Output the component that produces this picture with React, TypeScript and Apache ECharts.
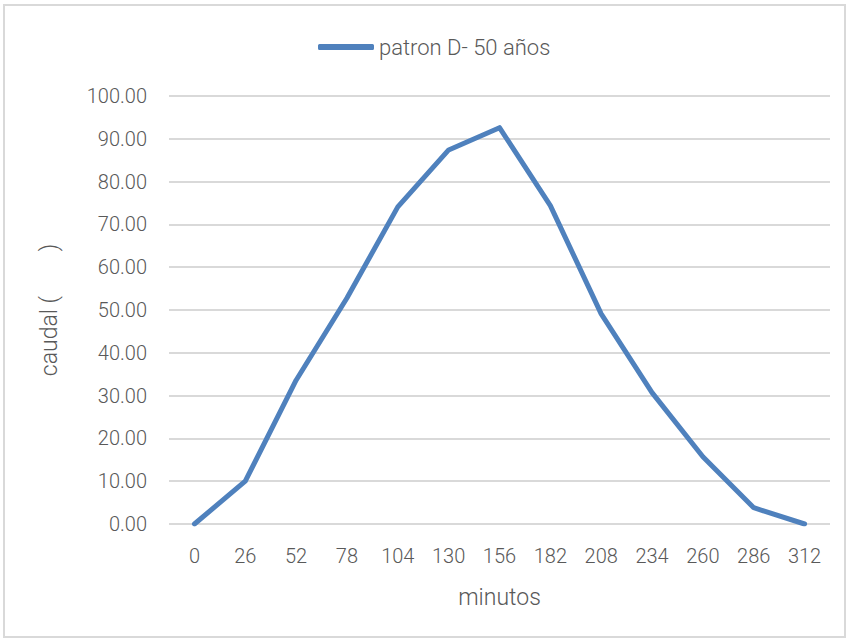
import React, { useEffect, useRef } from "react";
import * as echarts from "echarts";

const categories = ["0", "26", "52", "78", "104", "130", "156", "182", "208", "234", "260", "286", "312"];
const caudal = [0, 10.0, 33.6, 52.8, 74.1, 87.4, 92.6, 74.4, 49.1, 30.7, 15.7, 3.8, 0];
const seriesName = "patron D- 50 años";

const FONT = "Roboto, 'Liberation Sans', sans-serif";
const W = 300;

export default function App() {
  const ref = useRef<HTMLDivElement>(null);
  useEffect(() => {
    if (!ref.current) return;
    const chart = echarts.init(ref.current, undefined, { renderer: "svg" });
    chart.setOption({
      animation: false,
      textStyle: { fontFamily: FONT, color: "#595959", fontWeight: W },
      legend: {
        top: 31,
        left: 313,
        itemWidth: 56,
        itemHeight: 6,
        itemGap: 3,
        icon: "roundRect",
        textStyle: { fontSize: 22, color: "#595959", fontFamily: FONT, fontWeight: W },
        data: [{ name: seriesName, icon: "roundRect" }],
      },
      grid: { left: 169, right: 9, top: 96, bottom: 106 },
      xAxis: {
        type: "category",
        data: categories,
        boundaryGap: true,
        name: "minutos",
        nameLocation: "middle",
        nameGap: 62,
        nameTextStyle: { fontSize: 23, color: "#595959", fontFamily: FONT, fontWeight: W },
        axisLine: { show: false },
        axisTick: { show: false },
        axisLabel: { fontSize: 20, color: "#595959", margin: 22, fontFamily: FONT, fontWeight: W },
      },
      yAxis: {
        type: "value",
        min: 0,
        max: 100,
        interval: 10,
        name: "caudal (        )",
        nameLocation: "middle",
        nameGap: 108,
        nameTextStyle: { fontSize: 23, color: "#595959", fontFamily: FONT, fontWeight: W },
        axisLine: { show: false },
        axisTick: { show: false },
        axisLabel: {
          fontSize: 20,
          color: "#595959",
          margin: 22,
          fontFamily: FONT,
          fontWeight: W,
          formatter: (v: number) => v.toFixed(2),
        },
        splitLine: { lineStyle: { color: "#d9d9d9", width: 2 } },
      },
      series: [
        {
          name: seriesName,
          type: "line",
          data: caudal,
          symbol: "none",
          lineStyle: { color: "#4f81bd", width: 5, cap: "round", join: "round" },
          itemStyle: { color: "#4f81bd" },
        },
      ],
    });
    return () => chart.dispose();
  }, []);
  return (
    <div
      style={{
        position: "absolute",
        left: 3,
        top: 4,
        width: 843,
        height: 634,
        border: "2px solid #d9d9d9",
        boxSizing: "border-box",
        background: "#fff",
      }}
    >
      <div ref={ref} style={{ width: 839, height: 630, position: "absolute", left: -5, top: -6 }} />
    </div>
  );
}
